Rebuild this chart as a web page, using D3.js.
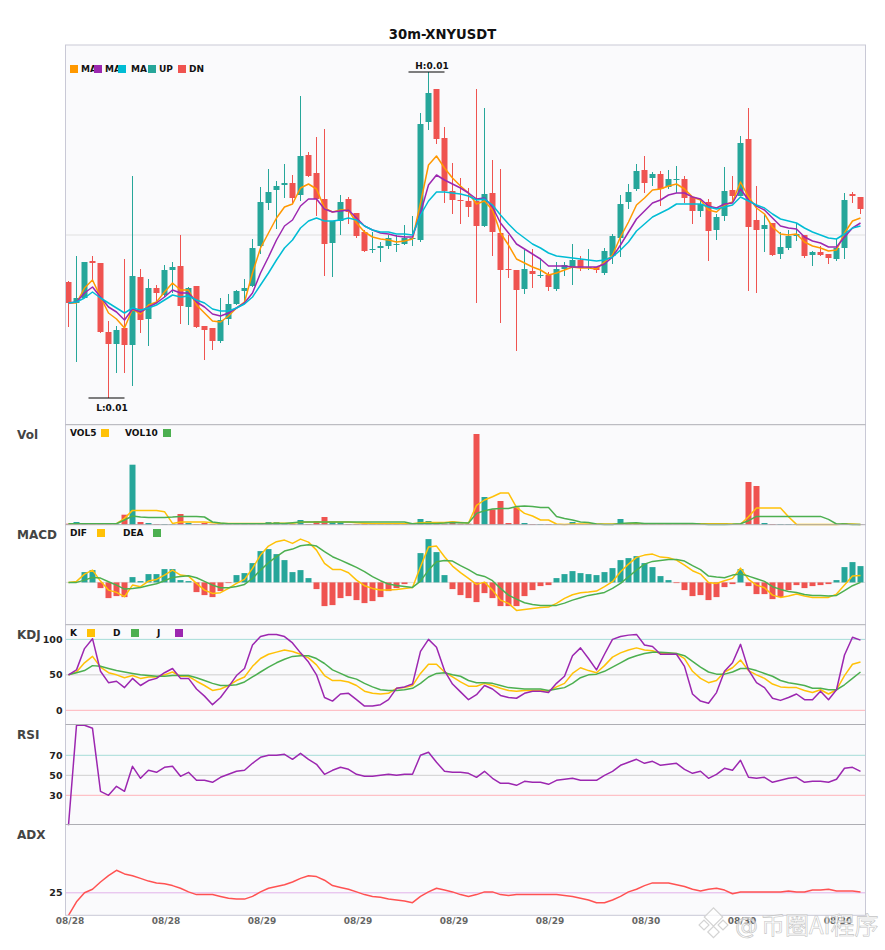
<!DOCTYPE html>
<html><head><meta charset="utf-8">
<script src="https://cdnjs.cloudflare.com/ajax/libs/d3/7.8.5/d3.min.js"></script>
<style>html,body{margin:0;padding:0;background:#fff}svg{display:block}text{font-family:"DejaVu Sans",sans-serif}</style>
</head><body><div id="chart"></div>
<script>
const title = "30m-XNYUSDT";
const tickDates = ["08/28","08/28","08/29","08/29","08/29","08/29","08/30","08/30","08/30"];
const tickStep = 12;
// prices in 1e-5 USDT
const opens = [953,932,937,974,972,903,891,907,890,958,916,947,940,965,969,928,949,909,907,894,916,931,944,949,989,1032,1045,1050,1052,1040,1080,1062,1036,992,1014,1036,1022,1003,985,987,989,990,991,996,995,1113,1146,1097,1044,1035,1034,1034,1009,1042,1002,966,965,946,964,959,960,946,966,968,975,967,968,962,979,997,1033,1046,1065,1057,1061,1048,1055,1056,1038,1024,1033,1005,1019,1045,1039,1096,1015,1006,1012,981,987,999,1000,980,983,981,976,987,1041,1038];
const closes = [932,937,973,972,903,891,905,890,959,915,947,942,965,968,929,947,908,905,894,915,931,944,947,987,1033,1043,1049,1052,1037,1079,1059,1036,991,1014,1033,1023,999,984,986,989,997,991,997,997,1111,1142,1096,1044,1035,1034,1028,1009,1041,1003,965,965,945,966,961,960,948,966,970,975,967,968,965,984,999,1031,1043,1064,1052,1061,1046,1056,1056,1037,1024,1031,1004,1018,1044,1039,1092,1008,1005,1010,980,988,999,1001,979,983,980,977,987,1035,1039,1026];
const lows = [908,873,937,955,902,837,862,862,849,902,889,932,938,942,911,910,907,875,885,892,910,930,932,948,981,1025,1006,1037,1032,1034,1058,1019,959,958,1000,1011,997,983,982,973,986,983,990,989,993,1105,1091,1032,1021,1011,1018,932,1008,979,912,957,884,941,947,957,944,944,959,950,964,965,962,960,971,978,1026,1044,1042,1049,1029,1046,1042,1032,1011,1018,974,995,1014,1034,1039,944,942,983,979,976,985,994,977,969,979,971,974,976,1032,1021];
const highs = [954,979,973,979,972,914,909,976,1059,966,956,950,970,973,1000,948,949,909,907,937,941,945,956,996,1048,1066,1054,1071,1060,1139,1083,1098,1106,1014,1040,1038,1022,1005,1003,993,1000,1000,1010,1019,1122,1163,1146,1108,1072,1057,1047,1146,1127,1075,1066,1000,965,985,986,977,963,973,973,991,979,986,968,987,1001,1040,1051,1071,1079,1063,1064,1065,1069,1059,1038,1036,1036,1021,1068,1059,1099,1127,1049,1020,1012,1003,1005,1012,1000,984,989,981,996,1042,1043,1038];
const ma5 = [932,932,947,955,938,922,916,907,926,921,930,933,943,952,945,945,930,922,914,913,919,927,933,962,987,1002,1017,1028,1031,1047,1051,1046,1027,1023,1025,1025,1012,1003,998,996,995,993,994,996,1032,1070,1079,1067,1057,1049,1042,1031,1034,1025,1002,990,976,972,968,965,960,962,965,968,967,967,966,973,980,998,1013,1030,1037,1045,1046,1049,1051,1046,1038,1035,1025,1023,1030,1033,1053,1038,1027,1021,1008,1001,1000,1001,993,989,987,984,985,1002,1014,1017];
const ma10 = [932,933,942,948,938,928,923,915,926,923,928,932,938,945,942,942,933,928,921,919,922,927,932,942,962,978,995,1009,1015,1029,1036,1036,1026,1023,1024,1025,1017,1009,1005,1002,1001,999,998,998,1022,1050,1060,1055,1051,1047,1042,1036,1037,1028,1012,1002,991,986,981,976,969,969,969,968,968,968,968,971,978,990,1003,1016,1024,1032,1035,1040,1042,1042,1038,1036,1029,1027,1031,1032,1046,1035,1029,1025,1017,1009,1007,1006,998,994,992,988,988,998,1007,1012];
const ma20 = [932,933,937,943,937,932,927,922,927,925,927,930,935,940,938,939,935,932,926,924,924,927,931,938,950,962,975,987,995,1007,1014,1017,1014,1014,1015,1017,1015,1009,1005,1003,1003,1001,1001,1000,1020,1034,1043,1043,1042,1041,1039,1035,1036,1030,1020,1011,1003,997,991,987,982,979,978,977,976,975,974,975,978,985,993,1004,1011,1018,1022,1026,1031,1031,1031,1031,1028,1026,1028,1030,1038,1034,1030,1027,1021,1016,1014,1012,1007,1003,1000,997,996,1001,1007,1009];
const volume = [1,2.7,.7,.7,.7,.7,.7,10,60,2.7,1.7,.7,.7,.5,10.7,1.7,.6,1.7,.7,.7,.7,.7,.7,.7,.7,2.7,2.7,.7,.7,4.7,.7,3.7,7.7,2.7,2.7,.7,.7,1,.5,.5,.5,.5,.5,.5,5.7,3.7,2.3,1,3,1,1,90.7,27.7,15.3,23.7,1.7,17.3,1.7,.7,.7,.7,.3,.3,2.7,.5,.3,.3,.3,.5,5.7,1.3,1.3,1.3,.5,.5,.5,.3,.3,.3,.3,1.3,.3,1.7,.3,.3,42.7,38.7,1.7,.7,.7,.7,.5,.3,.3,.3,.3,.3,1.7,.3,.3];
const vol5 = [1,1,1,1,1,1,1,6.3,14.3,14.3,14.3,14.3,13,1.3,2.7,2.7,2.7,2.7,2,1.3,1.3,1.3,1.3,1.3,1.3,1.3,1.5,1.5,1.5,2.5,2.7,2.7,2.7,2.7,2.7,2.7,2,1.5,1,1,1,1,1,1,2,2.2,2.3,2.3,3,2.3,1.7,19.3,24.7,28,31.7,31.7,17.3,11.3,8.7,4.7,4.7,.7,.3,.7,.7,.7,.7,.7,.7,1,1,1,1,1,1,1,1,1,1,1,1,1,1,.7,.5,8,16.7,16.7,16.7,16.7,8,.3,.3,.3,.3,.3,.3,.7,.7,.3];
const vol10 = [1,1,1,1,1,1,1,4.7,8.7,7.7,7.3,7.3,7.3,7.7,8.3,8.3,8.3,7.7,2.7,1.7,1,1,1,1,1,1,1.3,1.3,2,2.7,2.7,2.7,2.7,2.7,2.7,2.7,2.7,2.7,2.7,2.7,2.7,2.7,2.7,1,1.3,1.3,1.3,1.7,2.3,2,1.7,11.3,14,15.7,16.3,16.3,18.3,18.7,18.3,17.3,17.3,8.3,6.3,4.7,2.7,2.3,.7,.3,.3,1.3,1.7,2,1.3,1.3,1.3,1.3,1.3,1.3,1.3,.7,.3,.3,.3,.5,1,4,8.3,8.3,8.3,8.3,8.3,8.3,8.3,8.3,8.3,5.3,.7,.7,.3,.3];
const macdHist = [0,0,10.3,12.3,-5.7,-15.7,-13.7,-14.7,5.3,1.3,8.3,8.3,13.3,13.3,2.3,1.3,-9.7,-12.7,-14.7,-8.7,-.7,7.3,9.3,19.3,31.3,33.3,28.3,22.3,10.3,12.3,4.3,-6.7,-23.7,-22.7,-15.7,-13.7,-17.7,-20.7,-18.7,-14.7,-8.7,-5.7,-1.7,0,29.3,43.3,30.3,7.3,-6.7,-12.7,-15.7,-19.7,-10.7,-15.7,-23.7,-23.7,-23.7,-13.7,-7.7,-3.7,-2.7,4.3,8.3,11.3,9.3,8.3,7.3,10.3,14.3,22.3,24.3,26.3,19.3,15.3,6.3,2.3,-.7,-7.7,-13.7,-12.7,-17.7,-14.7,-4.7,-1.7,13.3,-3.7,-11.7,-11.7,-16.7,-14.7,-7.7,-2.7,-5.7,-3.7,-2.7,-1.7,2.3,15.3,20.3,16.3];
const dif = [0,1,8.3,12.3,1.3,-7.7,-10,-14.3,-2.7,-4.3,1.3,3,7.3,12.3,7.3,6.3,-1,-7.7,-11,-10.3,-6,-1,3,14,27.3,36.3,40.7,42.3,39,43.3,40.3,32.3,19,13,13,9.7,2.3,-3.3,-6,-7.7,-7.7,-7,-6,-5,15.7,35.3,36.3,25.7,16.3,9.7,4,-2,.3,-7.7,-17.7,-21,-28,-27,-26,-25,-24.7,-21,-16,-12.3,-10.3,-9.7,-8.7,-4.3,.7,10.7,18.3,25,27.3,28.3,25.3,24.7,22.3,17.3,11.7,8.3,0,-1,1.7,4,14.3,3,-2.7,-5.3,-12.7,-15,-13.7,-11.7,-13.7,-15,-15,-15,-11.7,-2.7,6.3,7];
const dea = [0,0,2.3,5,4.3,.7,-2.7,-6.7,-6,-5,-3,-1.3,1.7,5,6,6.7,4.7,1,-2.7,-5.3,-5.3,-4,-2,4,12.3,19.7,25.7,31.3,33.3,36.7,37.7,36.3,30.7,25.7,22.3,18.7,15,10.7,5.7,1.7,-1.7,-3,-4,-5,1.3,12.3,20.7,22,21.3,16.7,12.7,8,6,1.7,-6,-12.7,-16.7,-20.3,-22,-23,-23,-23,-20.7,-17.7,-15.3,-13,-11.7,-10,-6,-1,5.7,12.3,18.3,21,22,23,23,21.3,16.7,12.7,6.3,5.3,4.7,7.3,8.3,6.3,3.7,1,-4.3,-7,-9,-10,-12,-13,-13,-13.7,-13,-8.3,-3.3,0];
const kLine = [50,54,67,76,61,53,50,46,49,45,47,47,50,54,48,48,41,35,28,30,35,42,47,62,73,79,82,85,83,79,74,64,49,42,42,40,35,27,24,23,24,31,32,35,52,65,65,54,47,40,34,34,38,35,31,28,27,28,28,28,27,33,38,52,60,56,53,63,75,81,85,88,85,84,80,80,80,73,55,45,39,42,54,60,71,56,50,45,37,33,32,32,28,25,29,23,29,49,65,68];
const dLine = [50,53,56,63,62,59,56,54,52,50,49,48,48,49,49,49,46,42,38,35,35,36,40,47,54,61,67,72,76,77,77,73,66,57,52,47,44,38,33,29,28,28,29,31,38,47,52,53,50,48,42,39,39,38,35,32,31,30,30,30,28,30,32,38,46,50,51,55,61,67,73,77,80,82,82,81,80,77,69,61,54,51,51,54,59,59,56,52,48,42,39,37,35,31,31,29,29,36,45,54];
const jLine = [50,57,87,101,55,39,41,32,45,35,42,45,53,59,45,45,30,20,8,18,33,49,59,92,104,107,107,104,95,81,68,50,18,13,23,24,15,6,6,8,15,31,33,37,83,100,89,56,37,26,15,22,35,30,21,18,17,24,27,27,25,38,48,77,88,73,57,79,100,104,106,107,92,90,79,79,79,62,23,13,10,25,55,67,93,57,39,32,17,14,18,23,15,15,27,15,29,78,103,99];
const rsi = [0,100,100,97,34,30,39,34,59,47,55,53,58,59,49,53,45,45,43,48,51,54,55,62,68,70,70,71,66,72,66,61,51,55,58,56,51,49,49,50,51,50,51,51,70,73,63,54,53,53,52,48,54,47,42,42,40,44,43,43,41,45,46,47,45,45,45,50,54,60,63,66,62,64,60,61,62,56,52,54,47,51,57,55,65,48,47,48,43,45,47,48,43,44,44,43,46,57,58,54];
const adx = [0,15,25,29,37,44,50,46,44,41,38,36,35,33,30,26,23,23,23,21,19,18,18,21,26,30,32,34,37,41,44,43,39,33,31,29,26,23,21,20,18,17,16,14,21,26,30,28,26,23,21,23,26,26,23,22,23,23,23,23,23,23,22,21,19,17,14,14,17,21,26,29,33,36,36,36,34,32,29,27,29,30,28,24,26,26,26,26,26,26,27,26,26,28,28,29,27,27,27,26];
const kdjTicks = [100,50,0];
const rsiTicks = [70,50,30];
const adxTicks = [25];

const UP="#26a69a", DN="#ef5350", ORANGE="#ff9800", PURPLE="#9c27b0", CYAN="#00bcd4", YELLOW="#ffc107", GREEN="#4caf50";
const W=885,H=950,L=65.5,R=865.5;
const svg=d3.select("#chart").append("svg").attr("width",W).attr("height",H);
const idx=d3.range(opens.length);
const x=d3.scaleBand().domain(idx).range([L-1,R-1]);
const xc=i=>x(i)+x.bandwidth()/2;

const panes={
 main:{top:45,bottom:424.7},
 vol:{top:424.7,bottom:524.7},
 macd:{top:524.7,bottom:624.7},
 kdj:{top:624.7,bottom:724.5},
 rsi:{top:724.5,bottom:824.5},
 adx:{top:824.5,bottom:915.3}
};
const yMain=d3.scaleLinear().domain([810,1190]).range([425,45]);
const yVol=d3.scaleLinear().domain([0,100]).range([524.7,424.7]);
const yMacd=d3.scaleLinear().domain([-42.3,57.7]).range([624.7,524.7]);
const yKdj=d3.scaleLinear().domain([-20,120.7]).range([724.5,624.7]);
const yRsi=d3.scaleLinear().domain([0,100]).range([825.3,725.3]);
const yAdx=d3.scaleLinear().domain([0,100]).range([915.3,825.3]);

svg.append("rect").attr("x",L).attr("y",45).attr("width",R-L).attr("height",915.3-45).attr("fill","#fafafc");

function hline(y,color){svg.append("line").attr("x1",L).attr("x2",R).attr("y1",y).attr("y2",y).attr("stroke",color).attr("stroke-width",1);}
hline(yMain(1000),"#e0e0e0");
hline(yMacd(0),"#dddddd");
[[yKdj(100),"#a6dcd8"],[yKdj(50),"#cfcfcf"],[yKdj(0),"#ffb3ba"],[yRsi(70),"#a6dcd8"],[yRsi(50),"#cfcfcf"],[yRsi(30),"#ffb3ba"],[yAdx(25),"#e1b3ea"]].forEach(d=>hline(d[0],d[1]));

// candles
const col=i=>closes[i]>=opens[i]?UP:DN;
const cg=svg.append("g");
cg.selectAll("line").data(idx).join("line")
 .attr("x1",xc).attr("x2",xc).attr("y1",i=>yMain(highs[i])).attr("y2",i=>yMain(lows[i]))
 .attr("stroke",col).attr("stroke-width",1);
cg.selectAll("rect").data(idx).join("rect")
 .attr("x",i=>xc(i)-3).attr("width",6)
 .attr("y",i=>yMain(Math.max(opens[i],closes[i])))
 .attr("height",i=>Math.max(1,Math.abs(yMain(opens[i])-yMain(closes[i]))))
 .attr("fill",col);

function drawLine(arr,scale,color,w){
 const ln=d3.line().x((d,i)=>xc(i)).y(d=>scale(d));
 svg.append("path").attr("d",ln(arr)).attr("fill","none").attr("stroke",color).attr("stroke-width",w||1.5).attr("stroke-linejoin","round");
}
drawLine(ma5,yMain,ORANGE);drawLine(ma10,yMain,PURPLE);drawLine(ma20,yMain,CYAN);

// high / low markers
const hi=highs.indexOf(d3.max(highs)), lo=lows.indexOf(d3.min(lows));
function marker(i,v,dy,label){
 const px=xc(i),py=yMain(v);
 svg.append("line").attr("x1",px-20).attr("x2",px+16).attr("y1",py).attr("y2",py).attr("stroke","#000").attr("stroke-width",1.1);
 svg.append("text").attr("x",px+3.5).attr("y",py+dy).attr("text-anchor","middle").attr("font-size",9).attr("font-weight","bold").attr("fill","#111").text(label);
}
marker(hi,highs[hi],-3.5,"H:0.01");
marker(lo,lows[lo],12.5,"L:0.01");

// volume
svg.append("g").selectAll("rect").data(idx).join("rect")
 .attr("x",i=>xc(i)-3).attr("width",6)
 .attr("y",i=>yVol(volume[i])).attr("height",i=>yVol(0)-yVol(volume[i]))
 .attr("fill",col);
drawLine(vol5,yVol,YELLOW);drawLine(vol10,yVol,GREEN);

// macd
svg.append("g").selectAll("rect").data(idx).join("rect")
 .attr("x",i=>xc(i)-3).attr("width",6)
 .attr("y",i=>yMacd(Math.max(0,macdHist[i])))
 .attr("height",i=>Math.abs(yMacd(macdHist[i])-yMacd(0)))
 .attr("fill",i=>macdHist[i]>=0?UP:DN);
drawLine(dif,yMacd,YELLOW);drawLine(dea,yMacd,GREEN);

// kdj, rsi, adx
drawLine(kLine,yKdj,YELLOW);drawLine(dLine,yKdj,GREEN);drawLine(jLine,yKdj,PURPLE);
drawLine(rsi,yRsi,PURPLE);
drawLine(adx,yAdx,"#ff5252");

// pane frames
const frame=svg.append("g");
frame.append("rect").attr("x",L).attr("y",45).attr("width",R-L).attr("height",915.3-45).attr("fill","none").attr("stroke","#c9c9d6").attr("stroke-width",1);
[panes.vol,panes.macd,panes.kdj,panes.rsi,panes.adx].forEach(p=>{
 frame.append("line").attr("x1",L).attr("x2",R).attr("y1",p.top).attr("y2",p.top).attr("stroke","#aeaeb4").attr("stroke-width",1);
});

// axes
function tickAxis(axis,y){
 const g=svg.append("g").attr("transform",`translate(${L-3},0)`).call(axis.tickSize(0).tickPadding(0));
 g.select(".domain").remove();
 g.selectAll("text").attr("font-family","DejaVu Sans").attr("font-size",9.5).attr("font-weight","bold").attr("fill","#222");
}
tickAxis(d3.axisLeft(yKdj).tickValues(kdjTicks));
tickAxis(d3.axisLeft(yRsi).tickValues(rsiTicks));
tickAxis(d3.axisLeft(yAdx).tickValues(adxTicks));

const xAxis=d3.axisBottom(x).tickValues(idx.filter(i=>i%tickStep===0)).tickFormat(i=>tickDates[i/tickStep]).tickSize(0).tickPadding(0);
const xg=svg.append("g").attr("transform","translate(1.5,918)").call(xAxis);
xg.select(".domain").remove();
xg.selectAll("text").attr("font-family","DejaVu Sans").attr("font-size",9).attr("font-weight","bold").attr("fill","#666");

// titles
svg.append("text").attr("x",442.5).attr("y",39).attr("text-anchor","middle").attr("font-size",13.2).attr("font-weight","bold").attr("fill","#111").text(title);
const paneTitles=[["Vol",439],["MACD",539],["KDJ",639],["RSI",739],["ADX",839]];
svg.append("g").selectAll("text").data(paneTitles).join("text")
 .attr("x",17).attr("y",d=>d[1]).attr("font-size",12).attr("font-weight","bold").attr("fill","#444").text(d=>d[0]);

// legends
function legendItem(sx,sy,color,label,tx){
 svg.append("text").attr("x",tx).attr("y",sy+7.3).attr("font-size",9).attr("font-weight","bold").attr("fill","#111").text(label);
 svg.append("rect").attr("x",sx).attr("y",sy).attr("width",8).attr("height",8).attr("fill",color);
}
[[70,ORANGE,"MA",81],[94,PURPLE,"MA",105],[118,CYAN,"MA",131],[148,UP,"UP",159],[178,DN,"DN",189]].forEach(d=>legendItem(d[0],65,d[1],d[2],d[3]));
[[101,YELLOW,"VOL5",70],[163,GREEN,"VOL10",125]].forEach(d=>legendItem(d[0],429,d[1],d[2],d[3]));
[[97,YELLOW,"DIF",70],[153,GREEN,"DEA",123]].forEach(d=>legendItem(d[0],529,d[1],d[2],d[3]));
[[87,YELLOW,"K",70],[131,GREEN,"D",113],[175,PURPLE,"J",157]].forEach(d=>legendItem(d[0],629,d[1],d[2],d[3]));

// watermark
const wm=svg.append("g");
[[713.5,917,13],[704,925,7],[723,925,7],[713.5,932,8]].forEach(d=>{
 wm.append("rect").attr("x",d[0]-d[2]/2).attr("y",d[1]-d[2]/2).attr("width",d[2]).attr("height",d[2])
  .attr("transform",`rotate(45 ${d[0]} ${d[1]})`).attr("fill","rgba(255,255,255,.75)").attr("stroke","#d4d4d4").attr("stroke-width",1.2);
});
wm.append("text").attr("x",735).attr("y",934).attr("font-family","DejaVu Sans").attr("font-size",23).attr("fill","rgba(255,255,255,.55)").attr("stroke","#c4c4c4").attr("stroke-width",.7).text("@");
wm.append("text").attr("x",761).attr("y",934).attr("style",'font-family:"Noto Sans CJK SC"').attr("font-size",24).attr("fill","rgba(255,255,255,.6)").attr("stroke","#c4c4c4").attr("stroke-width",.6).text("币圈AI程序");
</script></body></html>
